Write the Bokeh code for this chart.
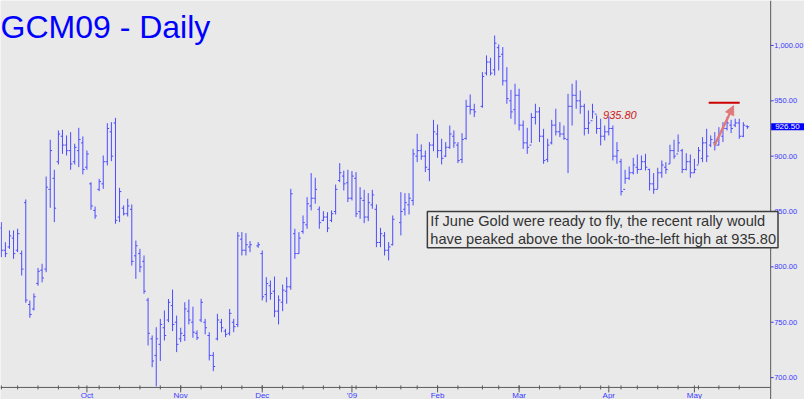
import pandas as pd
from bokeh.plotting import figure
from bokeh.core.properties import value
from bokeh.models import Range1d, Label, Arrow, NormalHead, ColumnDataSource, Span
from bokeh.embed import file_html
from bokeh.resources import INLINE

# ---------------- data ----------------
first_day = "2008-09-02"
last_day = "2009-05-20"
holidays = ["2008-11-27", "2008-12-25", "2009-01-01", "2009-01-19", "2009-02-16", "2009-04-10"]
gap_days = ["2008-11-27", "2009-01-19", "2009-02-16"]   # sessions left blank on the chart

highs = [840.4, 822.3, 832.9, 832.9, 834.4, 814.8, 860.9, 769.6, 776.0, 799.0,
         802.8, 881.6, 914.8, 887.7, 923.2, 923.8, 918.7, 921.7, 911.2, 925.6,
         917.8, 905.1, 876.5, 854.5, 879.5, 900.6, 929.8, 930.7, 934.6, 871.4,
         855.5, 861.5, 856.4, 823.8, 816.3, 810.3, 772.0, 738.0, 745.5, 753.0,
         760.6, 771.0, 779.5, 756.0, 745.0, 768.0, 770.5, 764.0, 742.6, 771.2,
         753.0, 741.0, 723.0, 757.6, 753.0, 744.0, 762.0, 753.0, 831.4, 831.4,
         830.5, 823.3, 822.4, 814.8, 790.7, 787.7, 791.3, 774.2, 784.0, 790.7,
         870.5, 834.4, 831.4, 846.4, 863.0, 884.7, 880.5, 854.6, 850.3, 849.4,
         851.0, 874.4, 893.7, 887.0, 887.7, 886.5, 885.6, 872.0, 869.6, 866.6,
         869.6, 856.4, 835.3, 831.4, 822.4, 846.4, 867.5, 866.6, 866.6, 906.6,
         920.2, 910.6, 905.1, 912.7, 932.8, 928.6, 915.7, 912.7, 927.7, 923.2,
         912.7, 920.8, 950.9, 955.7, 947.3, 975.9, 991.0, 988.9, 1009.0, 1000.9,
         998.5, 980.4, 959.9, 965.4, 960.9, 932.2, 925.6, 938.9, 947.3, 944.3,
         924.7, 915.7, 932.8, 942.8, 930.7, 927.7, 956.3, 965.4, 968.5, 959.3,
         947.3, 941.3, 947.3, 936.8, 933.8, 927.7, 935.8, 927.7, 912.7, 897.6,
         887.7, 890.7, 898.5, 901.5, 900.6, 902.1, 888.6, 884.7, 889.5, 896.1,
         894.6, 910.3, 914.8, 919.6, 906.6, 902.7, 901.5, 897.6, 908.2, 917.2,
         924.7, 918.7, 921.7, 926.2, 930.7, 935.3, 932.8, 933.8, 933.8, 930.7,
         927.7]
lows = [808.8, 808.8, 816.3, 807.3, 813.3, 792.2, 767.5, 754.0, 760.6, 783.0,
        786.0, 795.2, 853.3, 840.4, 892.5, 902.1, 900.6, 887.7, 892.5, 890.1,
        883.5, 887.7, 851.5, 843.4, 868.4, 870.5, 891.6, 895.5, 838.9, 840.4,
        846.4, 845.5, 801.2, 789.2, 795.2, 775.7, 729.0, 709.4, 692.0, 715.0,
        733.5, 750.0, 742.0, 723.0, 732.0, 733.0, 748.0, 736.0, 734.0, 750.0,
        739.0, 715.5, 705.8, 733.5, 741.0, 736.5, 738.0, 741.0, 745.6, 810.3,
        810.3, 813.3, 817.2, 769.7, 768.0, 770.3, 754.6, 748.0, 760.0, 766.7,
        779.3, 807.3, 811.8, 829.9, 834.4, 851.0, 857.0, 834.4, 841.3, 831.4,
        840.4, 847.3, 876.5, 869.0, 858.5, 860.0, 845.0, 843.4, 839.5, 841.3,
        852.5, 817.8, 817.8, 810.3, 805.8, 819.3, 828.4, 846.4, 847.3, 855.5,
        894.6, 896.7, 885.6, 877.4, 904.5, 898.5, 892.5, 899.1, 906.6, 907.6,
        893.7, 893.7, 914.8, 937.7, 935.3, 943.7, 972.9, 972.9, 972.9, 977.4,
        963.9, 947.3, 933.8, 928.6, 923.2, 906.6, 902.1, 911.8, 928.6, 912.7,
        893.1, 894.6, 910.6, 918.7, 917.2, 914.8, 884.7, 927.7, 942.8, 938.3,
        918.7, 920.2, 933.8, 920.2, 909.7, 914.2, 918.7, 896.1, 893.1, 864.5,
        875.0, 878.6, 883.5, 884.1, 887.7, 887.1, 869.0, 866.0, 870.5, 880.5,
        884.1, 893.1, 897.6, 903.6, 884.7, 887.1, 880.5, 884.7, 893.1, 894.6,
        894.6, 908.2, 905.1, 909.7, 912.7, 923.2, 920.8, 926.2, 915.7, 917.2,
        924.7]
opens = [835, 815, 818, 826, 815, 812, 858, 766, 762, 785,
         797, 798, 870, 880, 895, 918, 910, 905, 895, 905,
         912, 890, 875, 851, 870, 875, 895, 922, 930, 845,
         853, 848, 852, 810, 812, 805, 770, 735, 720, 730,
         745, 752, 765, 750, 735, 738, 760, 750, 740, 752,
         750, 738, 720, 735, 750, 742, 740, 750, 748, 825,
         815, 818, 819, 812, 775, 783, 778, 760, 768, 778,
         782, 830, 812, 832, 838, 855, 862, 852, 842, 845,
         842, 850, 878, 882, 876, 862, 880, 850, 860, 845,
         856, 852, 822, 828, 815, 820, 840, 852, 856, 860,
         900, 905, 900, 888, 910, 920, 905, 900, 908, 918,
         910, 897, 916, 945, 942, 945, 975, 985, 978, 998,
         992, 968, 950, 942, 955, 928, 912, 910, 935, 940,
         918, 897, 912, 928, 922, 920, 915, 945, 955, 950,
         945, 925, 932, 938, 925, 918, 922, 925, 900, 895,
         870, 880, 885, 890, 888, 895, 888, 875, 870, 885,
         890, 893, 905, 902, 905, 888, 895, 885, 892, 898,
         912, 910, 912, 910, 918, 925, 928, 928, 930, 918,
         927]
closes = [815, 812, 828, 812, 830, 798, 770, 757, 773, 796,
          790, 872, 905, 853, 920, 910, 905, 893, 908, 915,
          888, 902, 855, 846, 877, 895, 925, 900, 842, 868,
          848, 855, 805, 819, 800, 778, 740, 715, 735, 748,
          738, 768, 748, 730, 740, 762, 752, 741, 736, 768,
          745, 720, 710, 752, 745, 739, 758, 746, 828, 815,
          820, 820, 820, 773, 785, 776, 760, 770, 779, 782,
          866, 812, 826, 840, 857, 862, 870, 840, 845, 835,
          848, 870, 885, 875, 862, 882, 848, 862, 845, 858,
          865, 822, 830, 815, 818, 843, 850, 858, 862, 902,
          905, 900, 890, 910, 922, 905, 898, 908, 920, 912,
          896, 915, 945, 942, 940, 972, 985, 975, 1002, 990,
          968, 952, 940, 955, 928, 912, 908, 935, 940, 918,
          896, 910, 928, 922, 920, 916, 945, 955, 950, 945,
          925, 930, 940, 925, 918, 922, 925, 900, 905, 868,
          880, 885, 892, 888, 895, 890, 875, 870, 885, 892,
          888, 905, 900, 912, 888, 895, 885, 888, 905, 912,
          900, 915, 910, 920, 925, 930, 925, 930, 918, 928,
          926.5]

month_labels = ["Oct", "Nov", "Dec", "'09", "Feb", "Mar", "Apr", "May"]
price_ticks = [700, 750, 800, 850, 900, 950, 1000]
last_price = 926.50
target_high = 935.80
title_text = "GCM09 - Daily"
note_text = ("If June Gold were ready to fly, the recent rally would\n"
             "have peaked above the look-to-the-left high at 935.80")

# layout in chart units (slots / prices)
x_view = (-0.2, 197.0)
y_view = (680.2, 1040.6)
price_axis_x = 188.7          # where the price scale sits
time_axis_y = 691.1           # where the time scale sits
red_line_x = (173.5, 181.1)
red_line_y = 948.2
arrow_from = (174.9, 909.7)
arrow_to = (179.6, 945.6)
note_pos = (104.5, 850.0)

# ---------------- positions ----------------
days = pd.bdate_range(first_day, last_day)
days = days[~days.isin(pd.to_datetime(holidays))]
gaps = pd.to_datetime(gap_days)
slots = [i + int((gaps < d).sum()) for i, d in enumerate(days)]

df = pd.DataFrame({"date": days, "slot": slots, "high": highs, "low": lows,
                   "open": opens, "close": closes})
df["xl"] = df["slot"] - 0.45
df["xr"] = df["slot"] + 0.45
src = ColumnDataSource(df)

month_first = df.groupby(df["date"].dt.to_period("M"))["slot"].min().sort_index()
month_slots = [int(s) for s in month_first.values[1:]]
week_slots = [int(s) for s in df.groupby(df["date"].dt.to_period("W"))["slot"].min().values]

# ---------------- figure ----------------
W, H = 804, 399
BG = "#e9e9e9"
BLUE = "#3a3aff"
AXIS = "#5a5a5a"
FONT = "Liberation Sans"
px_x = (x_view[1] - x_view[0]) / W      # slot units per pixel
px_y = (y_view[1] - y_view[0]) / H      # price units per pixel

p = figure(width=W, height=H, output_backend="svg", toolbar_location=None,
           x_range=Range1d(*x_view), y_range=Range1d(*y_view),
           x_axis_location=None, y_axis_location=None)
p.background_fill_color = BG
p.border_fill_color = BG
p.outline_line_color = None
p.grid.visible = False
p.min_border = 0

# time scale
p.segment(x0=[x_view[0]], y0=[time_axis_y], x1=[price_axis_x], y1=[time_axis_y],
          line_color=AXIS, line_width=1)
p.segment(x0=week_slots, y0=[time_axis_y - 2 * px_y] * len(week_slots),
          x1=week_slots, y1=[time_axis_y + 2 * px_y] * len(week_slots),
          line_color=AXIS, line_width=1)
p.segment(x0=month_slots, y0=[time_axis_y - 5 * px_y] * len(month_slots),
          x1=month_slots, y1=[time_axis_y + 2 * px_y] * len(month_slots),
          line_color=AXIS, line_width=1)
p.text(x=month_slots, y=[time_axis_y - 8 * px_y] * len(month_slots), text=month_labels,
       text_font=value(FONT), text_font_size="8px", text_color=BLUE,
       text_align="center", text_baseline="middle")

# price scale
p.add_layout(Span(location=price_axis_x, dimension="height", line_color=AXIS, line_width=1))
tick_src = ColumnDataSource(dict(y=price_ticks,
                                 x0=[price_axis_x] * len(price_ticks),
                                 x1=[price_axis_x + 3 * px_x] * len(price_ticks),
                                 xt=[price_axis_x + 3.5 * px_x] * len(price_ticks),
                                 label=[f"{v:,.2f}" for v in price_ticks]))
p.segment(x0="x0", y0="y", x1="x1", y1="y", source=tick_src, line_color=BLUE, line_width=1)
p.text(x="xt", y="y", text="label", source=tick_src, text_font=value(FONT),
       text_font_size="7.5px", text_color=BLUE, text_baseline="middle", text_align="left")

# OHLC bars
BAR = "#4c4cff"
p.segment(x0="slot", y0="low", x1="slot", y1="high", source=src, line_color=BAR, line_width=1)
p.segment(x0="xl", y0="open", x1="slot", y1="open", source=src, line_color=BAR, line_width=1)
p.segment(x0="slot", y0="close", x1="xr", y1="close", source=src, line_color=BAR, line_width=1)

# title
p.add_layout(Label(x=x_view[0], y=1016.7, text=title_text, text_font=FONT, text_font_size="32px",
                   text_color="#0000ff", text_baseline="alphabetic"))

# target-high label
tgt_slot = float(df.loc[(df["high"] - target_high).abs().idxmin(), "slot"])
p.add_layout(Label(x=tgt_slot - 1.4, y=target_high + 1.0, text=f"{target_high:.2f}", text_font=FONT,
                   text_font_size="11px", text_font_style="italic", text_color="#cc1a1a",
                   text_baseline="alphabetic"))

# red resistance line
p.segment(x0=[red_line_x[0]], y0=[red_line_y], x1=[red_line_x[1]], y1=[red_line_y],
          line_color="#cc0000", line_width=2)

# arrow
head = NormalHead(size=9, fill_color="#e07a7a", line_color="#e07a7a")
p.add_layout(Arrow(end=head, x_start=arrow_from[0], y_start=arrow_from[1],
                   x_end=arrow_to[0], y_end=arrow_to[1], line_color="#e07a7a", line_width=2.5))

# note box
p.add_layout(Label(x=note_pos[0], y=note_pos[1], text=note_text, text_font=FONT,
                   text_font_size="14.6px", text_line_height=1.14, text_color="#333333",
                   text_align="left", text_baseline="top", border_line_color="#3c3c3c",
                   border_line_width=1.5, background_fill_color=BG,
                   padding=dict(left=3, right=2, top=1, bottom=1)))

# last price flag
p.add_layout(Label(x=price_axis_x + 0.5 * px_x, y=last_price, text=f"{last_price:.2f}",
                   text_font=FONT, text_font_size="8px", text_color="white",
                   text_baseline="middle", background_fill_color="#0000ff",
                   padding=dict(left=4, right=5, top=1, bottom=1)))

open("out.html", "w").write(file_html(p, INLINE))
